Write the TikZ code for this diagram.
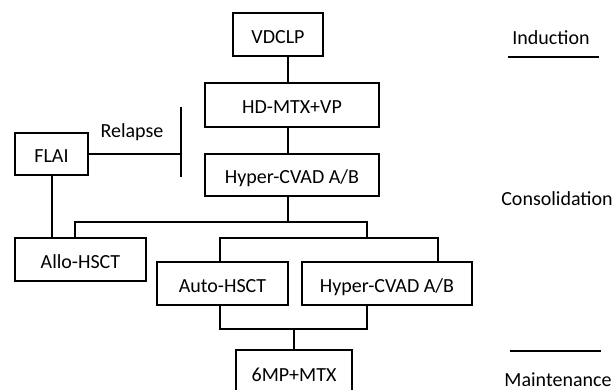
\documentclass[tikz,border=0pt]{standalone}
\usepackage{fontspec}
\setmainfont{Carlito}
\begin{document}
\begin{tikzpicture}[x=1pt,y=-1pt,
  every node/.style={font=\fontsize{20}{24}\selectfont, text height=13pt, text depth=0pt, inner sep=0pt},
  box/.style={draw, line width=1.7pt, rectangle, text height=18pt},
  conn/.style={line width=1.5pt},
  sepline/.style={line width=2.2pt}]
\useasboundingbox (0,0) rectangle (616,390);
\clip (0,0) rectangle (616,390);
% boxes
\node[box, minimum width=90pt, minimum height=43pt] (vdclp) at (278,34.5) {VDCLP};
\node[box, minimum width=174pt, minimum height=44pt] (hd) at (292,105) {HD-MTX+VP};
\node[box, minimum width=174pt, minimum height=42pt] (hyp1) at (292,175) {Hyper-CVAD A/B};
\node[box, minimum width=73pt, minimum height=42pt] (flai) at (51.5,154) {FLAI};
\node[box, minimum width=131pt, minimum height=43pt] (allo) at (80.5,259.5) {Allo-HSCT};
\node[box, minimum width=131pt, minimum height=43pt] (auto) at (222.5,283.5) {Auto-HSCT};
\node[box, minimum width=170pt, minimum height=43pt] (hyp2) at (387,283.5) {Hyper-CVAD A/B};
\node[box, minimum width=116pt, minimum height=60pt] (mp) at (294,380) {};
\node (mptext) at (294,375) {6MP+MTX};
% coordinates
\coordinate (xa) at (288,0);
\coordinate (jn1) at (288,222);
\coordinate (jl) at (75,222);
\coordinate (jr) at (367,222);
\coordinate (jr2) at (367,238);
\coordinate (jal) at (220,238);
\coordinate (jar) at (438,238);
\coordinate (bl) at (220,329);
\coordinate (br) at (367,329);
\coordinate (bm) at (294,329);
\coordinate (bartop) at (181,107);
\coordinate (barbot) at (181,177);
\coordinate (fx) at (52,0);
% connectors
\draw[conn] (vdclp.south -| xa) -- (hd.north -| xa);
\draw[conn] (hd.south -| xa) -- (hyp1.north -| xa);
\draw[conn] (hyp1.south -| xa) -- (jn1);
\draw[conn] (allo.north -| jl) -- (jl) -- (jr) -- (jr2);
\draw[conn] (auto.north -| jal) -- (jal) -- (jar) -- (hyp2.north -| jar);
\draw[conn] (auto.south -| bl) -- (bl) -- (br) -- (hyp2.south -| br);
\draw[conn] (bm) -- (mp.north -| bm);
\draw[conn] (flai.east) -- (flai.east -| bartop);
\draw[line width=1.8pt] (bartop) -- (barbot);
\draw[conn] (flai.south -| fx) -- (allo.north -| fx);
\node (relapse) at (132,131) {Relapse};
% phase labels
\node (ind) at (551,38) {Induction};
\coordinate (il1) at (508,57);
\coordinate (il2) at (599,57);
\draw[sepline] (il1) -- (il2);
\node (cons) at (557,199) {Consolidation};
\coordinate (ml1) at (510,351);
\coordinate (ml2) at (601,351);
\draw[sepline] (ml1) -- (ml2);
\node (maint) at (558,380) {Maintenance};
\end{tikzpicture}
\end{document}
